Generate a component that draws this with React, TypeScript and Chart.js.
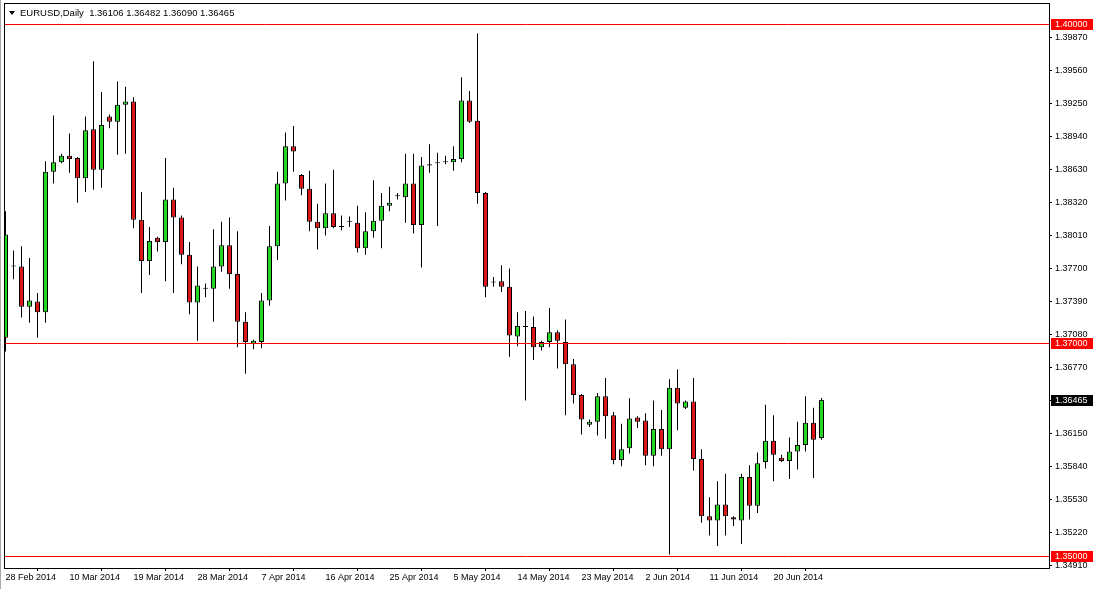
import React, { useEffect, useRef } from "react";
import { Chart, registerables } from "chart.js";

Chart.register(...registerables);

const symbolLabel = "EURUSD,Daily";

// bar index of each date label on the time axis (one bar per day incl. Sunday bars)
const xTickIdx = [0, 8, 16, 24, 32, 40, 48, 56, 64, 72, 80, 88, 96];
const xTickLabels = [
  "28 Feb 2014", "10 Mar 2014", "19 Mar 2014", "28 Mar 2014", "7 Apr 2014",
  "16 Apr 2014", "25 Apr 2014", "5 May 2014", "14 May 2014", "23 May 2014",
  "2 Jun 2014", "11 Jun 2014", "20 Jun 2014",
];

const opens = [
  1.3705, 1.3772, 1.3772, 1.3734, 1.3739, 1.3729, 1.3861, 1.3870, 1.3876, 1.3874,
  1.3855, 1.3901, 1.3863, 1.3913, 1.3908, 1.3924, 1.3927, 1.3816, 1.3777, 1.3799,
  1.3795, 1.3835, 1.3818, 1.3783, 1.3738, 1.3751, 1.3751, 1.3772, 1.3792, 1.3765,
  1.3720, 1.3699, 1.3701, 1.3740, 1.3791, 1.3850, 1.3885, 1.3858, 1.3845, 1.3814,
  1.3808, 1.3822, 1.3809, 1.3814, 1.3813, 1.3789, 1.3805, 1.3815, 1.3829, 1.3838,
  1.3837, 1.3850, 1.3811, 1.3867, 1.3869, 1.3870, 1.3870, 1.3873, 1.3928, 1.3909,
  1.3841, 1.3757, 1.3758, 1.3753, 1.3706, 1.3715, 1.3715, 1.3696, 1.3701, 1.3710,
  1.3701, 1.3680, 1.3651, 1.3623, 1.3626, 1.3650, 1.3632, 1.3590, 1.3601, 1.3630,
  1.3627, 1.3594, 1.3619, 1.3600, 1.3658, 1.3639, 1.3645, 1.3591, 1.3537, 1.3533,
  1.3548, 1.3536, 1.3533, 1.3574, 1.3547, 1.3588, 1.3608, 1.3592, 1.3589, 1.3598,
  1.3604, 1.3625, 1.36106,
];
const highs = [
  1.3824, 1.3787, 1.3791, 1.3780, 1.3747, 1.3871, 1.3914, 1.3878, 1.3897, 1.3875,
  1.3913, 1.3965, 1.3936, 1.3915, 1.3946, 1.3941, 1.3931, 1.3842, 1.3809, 1.3800,
  1.3874, 1.3846, 1.3820, 1.3795, 1.3772, 1.3756, 1.3807, 1.3814, 1.3818, 1.3805,
  1.3729, 1.3703, 1.3747, 1.3810, 1.3861, 1.3898, 1.3904, 1.3859, 1.3862, 1.3831,
  1.3850, 1.3863, 1.3820, 1.3819, 1.3829, 1.3823, 1.3853, 1.3841, 1.3847, 1.3841,
  1.3878, 1.3878, 1.3875, 1.3887, 1.3879, 1.3876, 1.3885, 1.3950, 1.3937, 1.3991,
  1.3842, 1.3762, 1.3773, 1.3770, 1.3729, 1.3730, 1.3725, 1.3702, 1.3733, 1.3712,
  1.3722, 1.3685, 1.3652, 1.3628, 1.3653, 1.3667, 1.3635, 1.3624, 1.3648, 1.3631,
  1.3634, 1.3646, 1.3637, 1.3666, 1.3675, 1.3646, 1.3667, 1.3600, 1.3555, 1.3570,
  1.3577, 1.3537, 1.3577, 1.3585, 1.3597, 1.3642, 1.3632, 1.3595, 1.3611, 1.3626,
  1.3650, 1.3639, 1.36482,
];
const lows = [
  1.3692, 1.3760, 1.3724, 1.3719, 1.3705, 1.3719, 1.3850, 1.3869, 1.3860, 1.3832,
  1.3842, 1.3844, 1.3846, 1.3902, 1.3877, 1.3878, 1.3808, 1.3747, 1.3764, 1.3786,
  1.3758, 1.3747, 1.3774, 1.3727, 1.3702, 1.3743, 1.3720, 1.3767, 1.3751, 1.3696,
  1.3671, 1.3694, 1.3695, 1.3735, 1.3778, 1.3834, 1.3861, 1.3839, 1.3805, 1.3788,
  1.3801, 1.3808, 1.3806, 1.3809, 1.3785, 1.3783, 1.3799, 1.3789, 1.3824, 1.3835,
  1.3813, 1.3803, 1.3771, 1.3860, 1.3810, 1.3868, 1.3862, 1.3870, 1.3907, 1.3831,
  1.3743, 1.3753, 1.3748, 1.3687, 1.3697, 1.3646, 1.3684, 1.3693, 1.3696, 1.3676,
  1.3632, 1.3643, 1.3614, 1.3621, 1.3613, 1.3610, 1.3586, 1.3584, 1.3596, 1.3620,
  1.3585, 1.3584, 1.3594, 1.3501, 1.3618, 1.3638, 1.3580, 1.3531, 1.3519, 1.3509,
  1.3519, 1.3528, 1.3511, 1.3534, 1.3540, 1.3582, 1.3570, 1.3588, 1.3572, 1.3581,
  1.3598, 1.3573, 1.36090,
];
const closes = [
  1.3802, 1.3772, 1.3734, 1.3740, 1.3729, 1.3861, 1.3870, 1.3876, 1.3873, 1.3855,
  1.3900, 1.3863, 1.3905, 1.3908, 1.3924, 1.3927, 1.3816, 1.3777, 1.3796, 1.3795,
  1.3835, 1.3818, 1.3783, 1.3738, 1.3754, 1.3751, 1.3772, 1.3792, 1.3765, 1.3720,
  1.3701, 1.3702, 1.3740, 1.3791, 1.3850, 1.3885, 1.3880, 1.3845, 1.3814, 1.3808,
  1.3822, 1.3809, 1.3809, 1.3814, 1.3789, 1.3805, 1.3815, 1.3829, 1.3832, 1.3838,
  1.3850, 1.3811, 1.3867, 1.3868, 1.3869, 1.3870, 1.3873, 1.3928, 1.3908, 1.3841,
  1.3753, 1.3757, 1.3753, 1.3707, 1.3716, 1.3715, 1.3696, 1.3701, 1.3710, 1.3702,
  1.3680, 1.3651, 1.3628, 1.3626, 1.3650, 1.3631, 1.3590, 1.3600, 1.3629, 1.3626,
  1.3594, 1.3619, 1.3600, 1.3658, 1.3643, 1.3645, 1.3591, 1.3537, 1.3533, 1.3548,
  1.3537, 1.3534, 1.3574, 1.3547, 1.3587, 1.3608, 1.3595, 1.3589, 1.3598, 1.3604,
  1.3625, 1.3609, 1.36465,
];

const yTicks = [
  1.3987, 1.3956, 1.3925, 1.3894, 1.3863, 1.3832, 1.3801, 1.377, 1.3739, 1.3708,
  1.3677, 1.3646, 1.3615, 1.3584, 1.3553, 1.3522, 1.3491,
];

const levelLines = [1.4, 1.37, 1.35];

const FONT = "'Liberation Sans', Arial, sans-serif";
const BULL = "#24d824";
const BEAR = "#dc1616";
const LEVEL_RED = "#ff0000";

export default function App() {
  const canvasRef = useRef<HTMLCanvasElement | null>(null);

  useEffect(() => {
    document.body.style.margin = "0";
    document.body.style.background = "#ffffff";
    const canvas = canvasRef.current;
    if (!canvas) return;

    const bodies = opens.map((o, i) => ({
      x: i,
      y: [Math.min(o, closes[i]), Math.max(o, closes[i])],
    }));
    const wicks = opens.map((_, i) => ({ x: i, y: [lows[i], highs[i]] }));
    const bodyColors = opens.map((o, i) =>
      closes[i] > o ? BULL : closes[i] < o ? BEAR : "#000000"
    );

    const overlay = {
      id: "overlay",
      beforeDraw(chart: any) {
        const { ctx, width, height } = chart;
        ctx.save();
        ctx.fillStyle = "#ffffff";
        ctx.fillRect(0, 0, width, height);
        ctx.fillStyle = "#a8a8a8";
        ctx.fillRect(0, 0, 1, height);
        ctx.restore();
      },
      afterDatasetsDraw(chart: any) {
        const { ctx, chartArea } = chart;
        const ys = chart.scales.y;
        ctx.save();
        ctx.beginPath();
        ctx.rect(chartArea.left, chartArea.top, chartArea.right - chartArea.left, chartArea.bottom - chartArea.top);
        ctx.clip();
        ctx.strokeStyle = LEVEL_RED;
        ctx.lineWidth = 1;
        levelLines.forEach((lv) => {
          const y = Math.round(ys.getPixelForValue(lv)) + 0.5;
          ctx.beginPath();
          ctx.moveTo(chartArea.left, y);
          ctx.lineTo(chartArea.right, y);
          ctx.stroke();
        });
        ctx.restore();

        // frame
        ctx.save();
        ctx.strokeStyle = "#000000";
        ctx.lineWidth = 1;
        ctx.strokeRect(chartArea.left + 0.5, chartArea.top + 0.5, chartArea.right - chartArea.left, chartArea.bottom - chartArea.top);
        ctx.restore();
      },
      afterDraw(chart: any) {
        const { ctx, chartArea } = chart;
        const ys = chart.scales.y;
        ctx.save();
        ctx.font = `9px ${FONT}`;
        ctx.textBaseline = "middle";
        ctx.textAlign = "left";
        const boxX = chartArea.right + 2;
        const boxW = 42;
        const drawBox = (v: number, fill: string) => {
          const y = Math.round(ys.getPixelForValue(v));
          ctx.fillStyle = fill;
          ctx.fillRect(boxX, y - 5, boxW, 11);
          ctx.fillStyle = "#ffffff";
          ctx.fillText(v.toFixed(5), chartArea.right + 6, y + 0.5);
        };
        levelLines.forEach((lv) => drawBox(lv, LEVEL_RED));
        const last = closes.length - 1;
        drawBox(closes[last], "#000000");

        // header
        ctx.font = `9.5px ${FONT}`;
        ctx.fillStyle = "#000000";
        ctx.beginPath();
        ctx.moveTo(9, 11);
        ctx.lineTo(15, 11);
        ctx.lineTo(12, 15);
        ctx.closePath();
        ctx.fill();
        const header =
          symbolLabel + "  " +
          [opens[last], highs[last], lows[last], closes[last]].map((v) => v.toFixed(5)).join(" ");
        ctx.fillText(header, 20, 13.5);
        ctx.restore();
      },
    };

    const chart = new Chart(canvas, {
      type: "bar",
      data: {
        datasets: [
          {
            label: "body",
            data: bodies as any,
            backgroundColor: bodyColors,
            borderColor: "#000000",
            borderWidth: 1,
            borderSkipped: false,
            barThickness: 5,
            minBarLength: 1,
            grouped: false,
            inflateAmount: 0,
            order: 0,
          } as any,
          {
            label: "wick",
            data: wicks as any,
            backgroundColor: "#000000",
            borderWidth: 0,
            barThickness: 1,
            grouped: false,
            inflateAmount: 0,
            order: 1,
          } as any,
        ],
      },
      options: {
        animation: false,
        responsive: false,
        maintainAspectRatio: false,
        devicePixelRatio: 1,
        layout: { padding: { left: 4, top: 3, right: 0, bottom: 0 } },
        plugins: {
          legend: { display: false },
          tooltip: { enabled: false },
        },
        scales: {
          x: {
            type: "linear",
            offset: false,
            min: -0.1875,
            max: -0.1875 + 1045 / 8,
            afterBuildTicks: (scale: any) => {
              scale.ticks = xTickIdx.map((v) => ({ value: v }));
            },
            afterFit: (scale: any) => {
              scale.height = 21;
              scale.paddingLeft = 0;
              scale.paddingRight = 0;
            },
            grid: {
              display: true,
              drawOnChartArea: false,
              drawTicks: true,
              tickLength: 3,
              color: "#000000",
            },
            border: { display: false },
            ticks: {
              autoSkip: false,
              maxRotation: 0,
              minRotation: 0,
              align: "start",
              padding: 1,
              color: "#000000",
              font: { family: FONT, size: 9 },
              callback: (v: any) => {
                const i = xTickIdx.indexOf(Number(v));
                return i >= 0 ? xTickLabels[i] : "";
              },
            },
          },
          y: {
            type: "linear",
            position: "right",
            min: 1.40 - 544 / 10633,
            max: 1.40 + 21 / 10633,
            afterBuildTicks: (scale: any) => {
              scale.ticks = yTicks.map((v) => ({ value: v }));
            },
            afterFit: (scale: any) => {
              scale.width = 45;
              scale.paddingTop = 0;
              scale.paddingBottom = 0;
            },
            grid: {
              display: true,
              drawOnChartArea: false,
              drawTicks: true,
              tickLength: 3,
              color: "#000000",
            },
            border: { display: false },
            ticks: {
              autoSkip: false,
              padding: 3,
              color: "#000000",
              font: { family: FONT, size: 9 },
              callback: (v: any) => Number(v).toFixed(5),
            },
          },
        },
      } as any,
      plugins: [overlay],
    });

    return () => {
      chart.destroy();
    };
  }, []);

  return (
    <canvas
      ref={canvasRef}
      width={1094}
      height={589}
      style={{ display: "block", width: "1094px", height: "589px" }}
    />
  );
}
